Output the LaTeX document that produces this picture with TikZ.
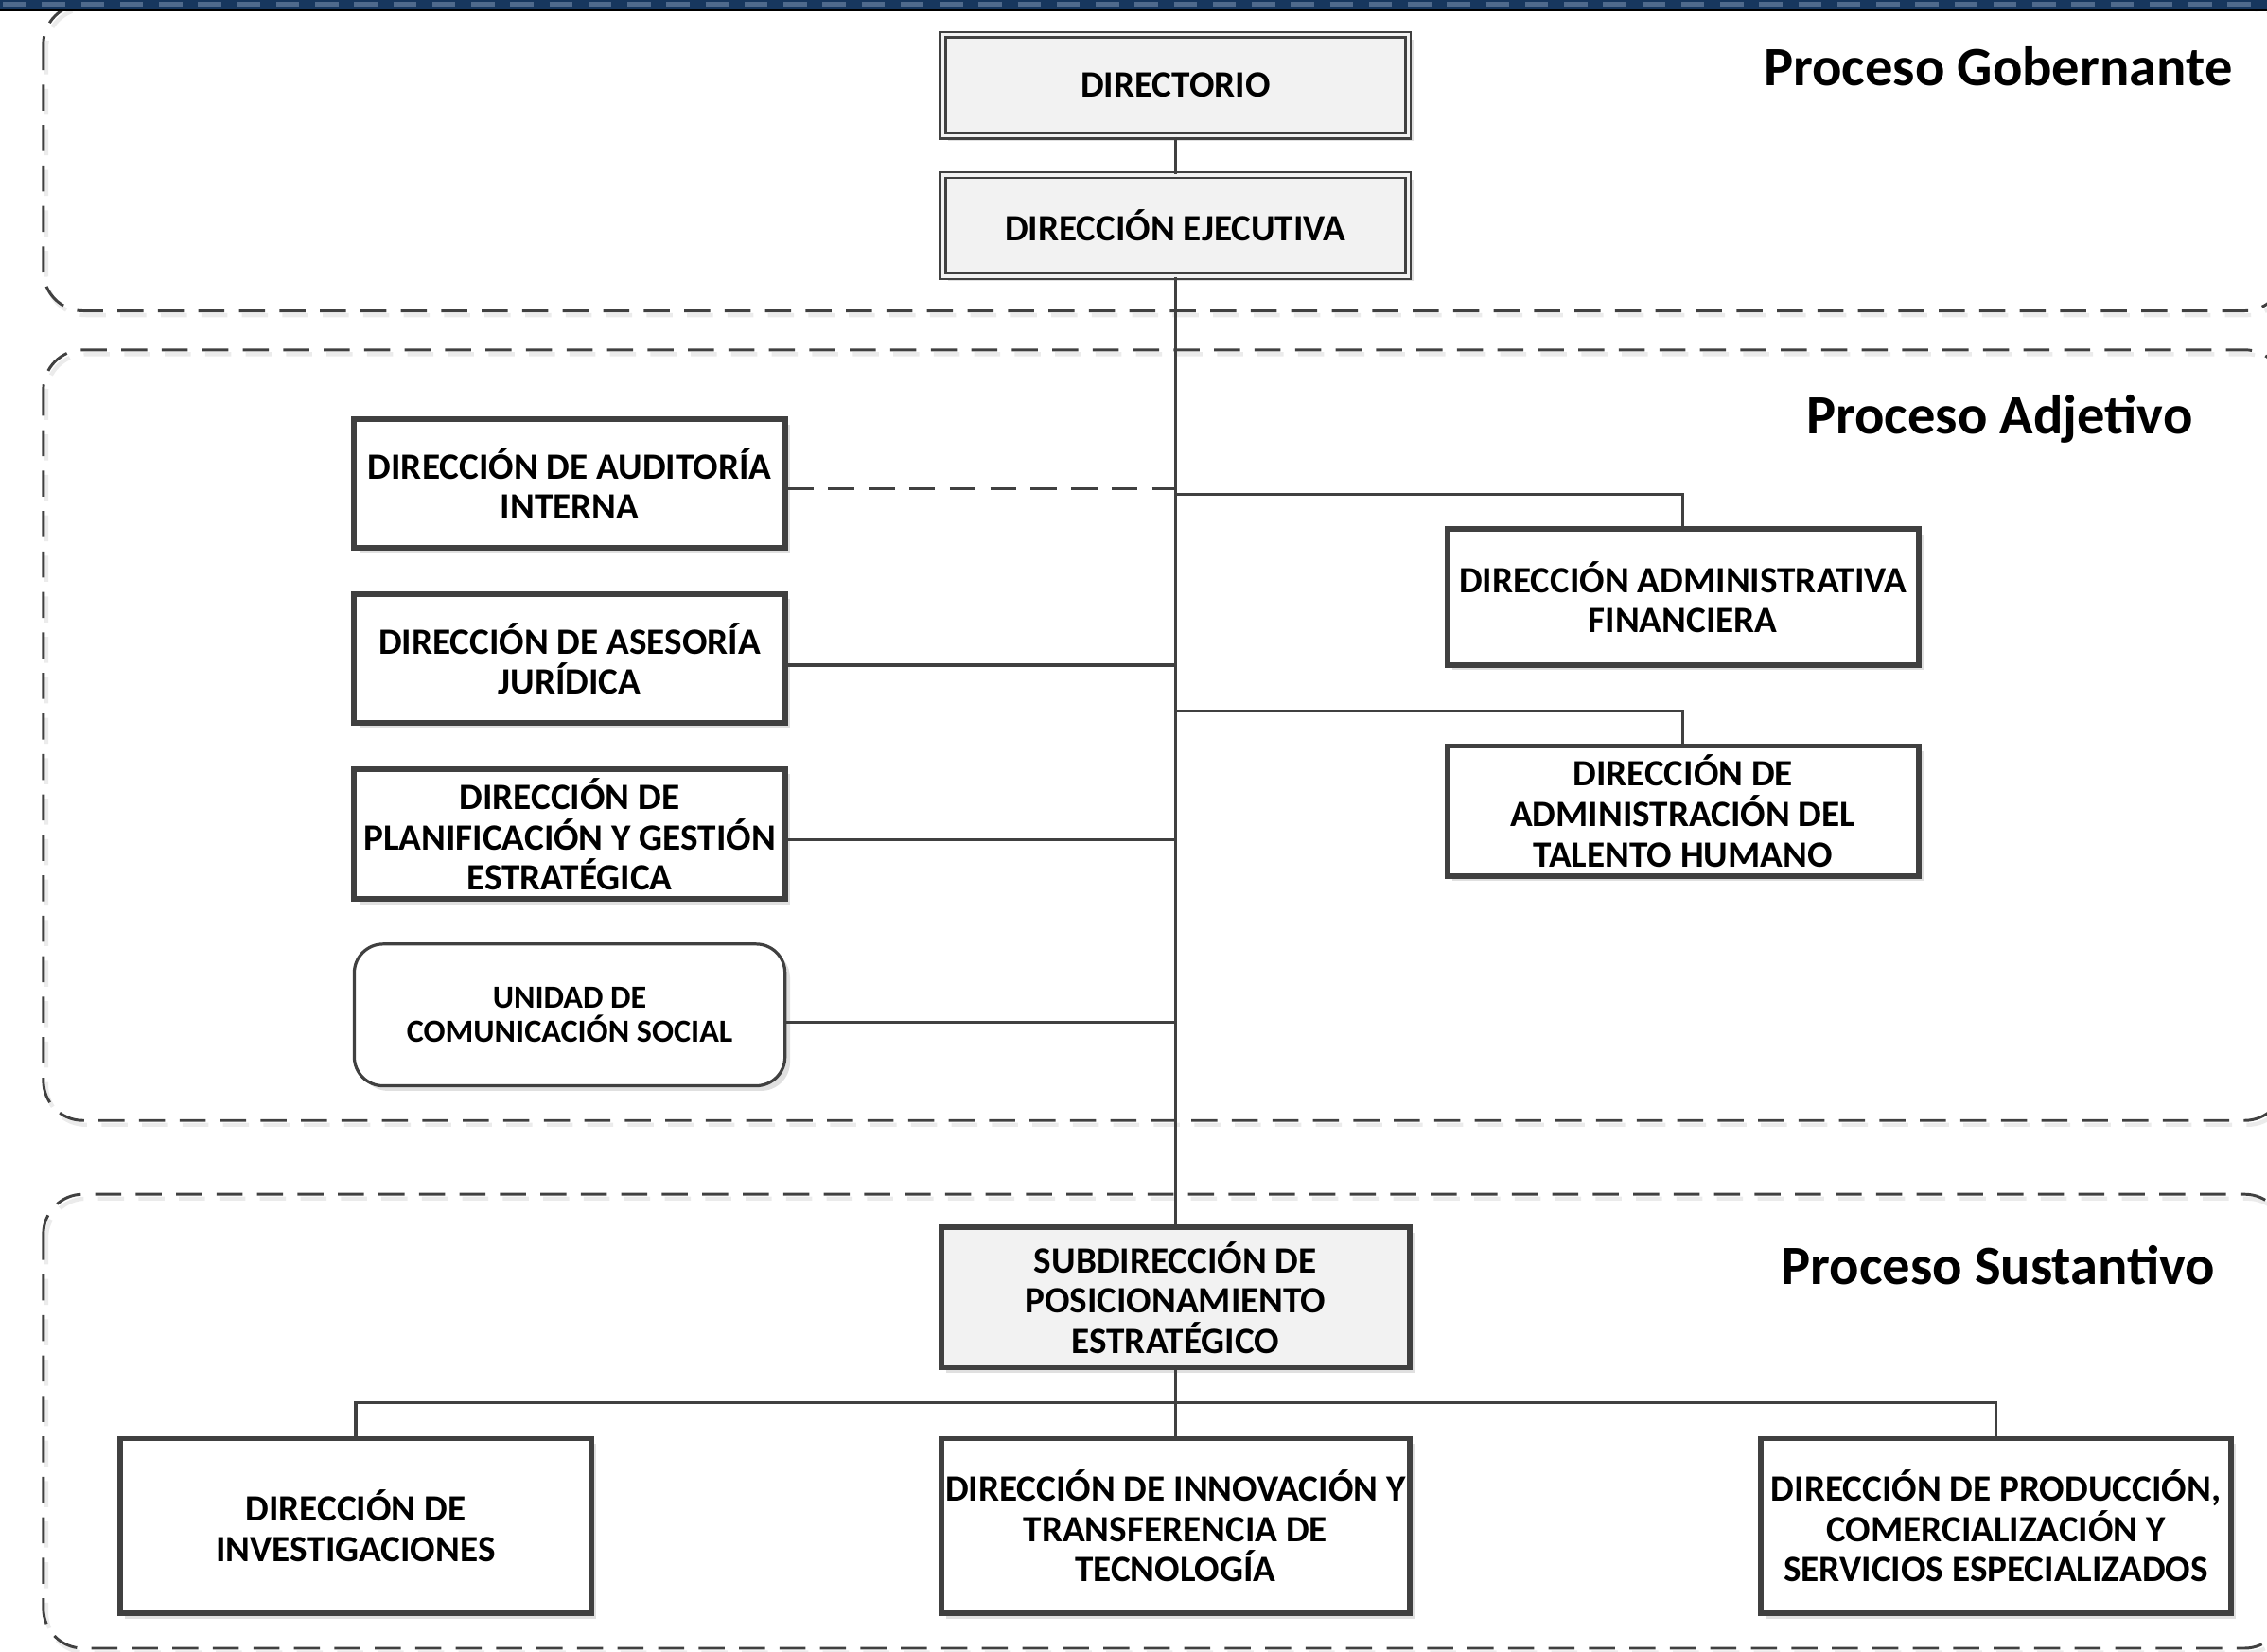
\documentclass[tikz,border=0pt]{standalone}
\usepackage{fontspec}
\setmainfont{Carlito}
\usetikzlibrary{shadows}
\definecolor{ln}{HTML}{404040}
\definecolor{gfill}{HTML}{F2F2F2}
\definecolor{navy}{HTML}{17375E}
\definecolor{navyl}{HTML}{4F6A8C}
\begin{document}
\begin{tikzpicture}[x=0.02cm,y=-0.02cm,
  unitbox/.style={draw=ln, line width=2.2pt, fill=white, inner sep=0pt, align=center,
    font=\bfseries\fontsize{14.6}{15.9}\selectfont,
    drop shadow={shadow xshift=0.07cm, shadow yshift=-0.07cm, fill=black!12, opacity=1}},
  dbox/.style={unitbox, fill=gfill, line width=0.9pt, double=gfill, double distance=1.3pt},
  gbox/.style={unitbox, fill=gfill},
  rbox/.style={unitbox, line width=1.2pt, rounded corners=0.4cm, font=\bfseries\fontsize{12.7}{13.6}\selectfont},
  grp/.style={draw=ln, line width=1.1pt, dash pattern=on 0.36cm off 0.2cm, rounded corners=0.55cm},
  grpsh/.style={draw=black!8, line width=1.6pt, dash pattern=on 0.36cm off 0.2cm, rounded corners=0.55cm},
  conn/.style={draw=ln, line width=1.2pt},
  lbl/.style={font=\bfseries\fontsize{21.8}{25}\selectfont, inner sep=0pt}]
\useasboundingbox (0,0) rectangle (1568,1142);
% group containers
\draw[grpsh] (32,6) rectangle (1582,218);
\draw[grpsh] (32,245) rectangle (1582,778);
\draw[grpsh] (32,829) rectangle (1582,1143);
\draw[grp] (30,3) rectangle (1580,215);
\draw[grp] (30,242) rectangle (1580,775);
\draw[grp] (30,826) rectangle (1580,1140);
% title bar
\fill[navy] (0,0) rectangle (1568,7);
\draw[navyl, line width=0.07cm, dash pattern=on 0.32cm off 0.22cm] (2,3) -- (1568,3);
\fill[black] (0,6.5) rectangle (1568,8);
% labels
\node[lbl] (lg) at (1382,46) {Proceso Gobernante};
\node[lbl] (la) at (1383,290) {Proceso Adjetivo};
\node[lbl] (ls) at (1382,875) {Proceso Sustantivo};
% nodes
\node[dbox, minimum width=6.44cm, minimum height=1.40cm] (dir) at (813,59) {DIRECTORIO};
\node[dbox, minimum width=6.44cm, minimum height=1.40cm] (eje) at (813,156) {DIRECCIÓN EJECUTIVA};
\node[unitbox, minimum width=5.96cm, minimum height=1.78cm] (aud) at (394,334.5) {DIRECCIÓN DE AUDITORÍA\\INTERNA};
\node[unitbox, minimum width=5.96cm, minimum height=1.78cm] (ases) at (394,455.5) {DIRECCIÓN DE ASESORÍA\\JURÍDICA};
\node[unitbox, minimum width=5.96cm, minimum height=1.80cm] (plan) at (394,577) {DIRECCIÓN DE\\PLANIFICACIÓN Y GESTIÓN\\ESTRATÉGICA};
\node[rbox, minimum width=5.96cm, minimum height=1.96cm] (uni) at (394,702) {UNIDAD DE\\COMUNICACIÓN SOCIAL};
\node[unitbox, minimum width=6.52cm, minimum height=1.88cm] (fin) at (1164,413) {DIRECCIÓN ADMINISTRATIVA\\FINANCIERA};
\node[unitbox, minimum width=6.52cm, minimum height=1.80cm] (tal) at (1164,561) {DIRECCIÓN DE\\ADMINISTRACIÓN DEL\\TALENTO HUMANO};
\node[gbox, minimum width=6.48cm, minimum height=1.94cm] (sub) at (813,897.5) {SUBDIRECCIÓN DE\\POSICIONAMIENTO\\ESTRATÉGICO};
\node[unitbox, minimum width=6.52cm, minimum height=2.42cm] (inv) at (246,1055.5) {DIRECCIÓN DE\\INVESTIGACIONES};
\node[unitbox, minimum width=6.48cm, minimum height=2.42cm] (inn) at (813,1055.5) {DIRECCIÓN DE INNOVACIÓN Y\\TRANSFERENCIA DE\\TECNOLOGÍA};
\node[unitbox, minimum width=6.50cm, minimum height=2.42cm] (pro) at (1380.5,1055.5) {DIRECCIÓN DE PRODUCCIÓN,\\COMERCIALIZACIÓN Y\\SERVICIOS ESPECIALIZADOS};
% junction coordinates on the spine
\coordinate (ja) at (813,338);
\coordinate (js) at (813,460);
\coordinate (jp) at (813,581);
\coordinate (ju) at (813,707);
\coordinate (jf) at (813,342);
\coordinate (jt) at (813,492);
\coordinate (bus) at (813,970);
% connectors
\draw[conn] (dir.south) -- (eje.north);
\draw[conn] (eje.south) -- (sub.north);
\draw[conn, dash pattern=on 0.36cm off 0.2cm] (ja -| aud.east) -- (ja);
\draw[conn] (js -| ases.east) -- (js);
\draw[conn] (jp -| plan.east) -- (jp);
\draw[conn] (ju -| uni.east) -- (ju);
\draw[conn] (jf) -| (fin.north);
\draw[conn] (jt) -| (tal.north);
\draw[conn] (sub.south) -- (inn.north);
\draw[conn] (inv.north) |- (bus) -| (pro.north);
\end{tikzpicture}
\end{document}
